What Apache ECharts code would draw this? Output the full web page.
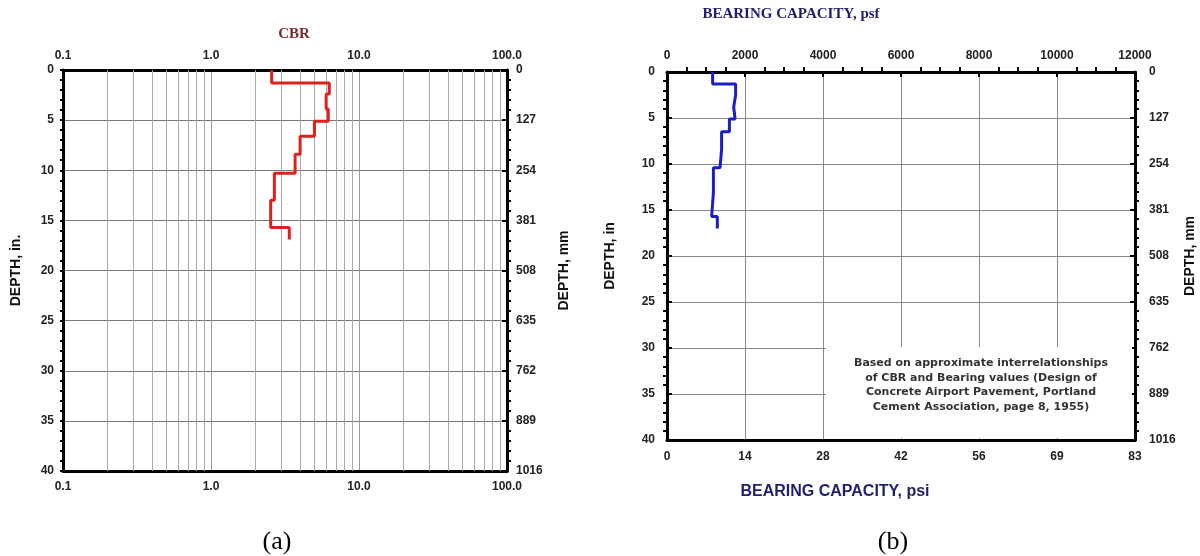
<!DOCTYPE html>
<html>
<head>
<meta charset="utf-8">
<script src="https://cdn.jsdelivr.net/npm/echarts@6/dist/echarts.min.js"></script>
<style>html,body{margin:0;padding:0;background:#fff}#c{width:1200px;height:556px}</style>
</head>
<body>
<div id="c"></div>
<script>
// ---- Data ----
// (a) CBR profile: layer boundaries (in.) and CBR value in each layer
const cbrDepthBreaks = [0, 1.3, 2.4, 3.9, 5.1, 6.6, 8.4, 10.3, 13.0, 15.7, 16.9];
const cbrValues      = [2.57, 6.3, 6.0, 6.2, 5.0, 4.0, 3.7, 2.68, 2.53, 3.38];
// (b) Bearing capacity profile: layer boundaries (in.) and psf in each layer
const bearingDepthBreaks = [0, 1.3, 2.5, 3.8, 5.1, 6.5, 8.4, 10.4, 13.1, 15.7, 17.0];
const bearingValues      = [1170, 1760, 1710, 1745, 1600, 1400, 1360, 1190, 1145, 1290];
// tick labels
const cbrTickLabels = ['0.1', '1.0', '10.0', '100.0'];
const depthInLabels = ['0', '5', '10', '15', '20', '25', '30', '35', '40'];
const depthMmLabels = ['0', '127', '254', '381', '508', '635', '762', '889', '1016'];
const psfLabels = ['0', '2000', '4000', '6000', '8000', '10000', '12000'];
const psiLabels = ['0', '14', '28', '42', '56', '69', '83'];
const noteLines = [
  'Based on approximate interrelationships',
  'of CBR and Bearing values (Design of',
  'Concrete Airport Pavement, Portland',
  'Cement Association, page 8, 1955)'
];

// ---- helpers ----
function stepProfile(breaks, values) {
  const pts = [];
  for (let i = 0; i < values.length; i++) {
    pts.push([values[i], breaks[i]]);
    pts.push([values[i], breaks[i + 1]]);
  }
  return pts;
}
// minor log gridlines 2..9 within each decade
const logMinor = [];
[0.1, 1, 10].forEach(d => { for (let k = 2; k <= 9; k++) logMinor.push({ xAxis: +(d * k).toFixed(4) }); });

const F = '"Liberation Sans", Arial, sans-serif';
const FS = '"Liberation Serif", "Times New Roman", serif';
const lbl = { fontFamily: F, fontWeight: 'bold', fontSize: 12, color: '#222' };
const axLine = { show: true, onZero: false, lineStyle: { color: '#000', width: 3 } };
const nameStyle = { fontFamily: F, fontWeight: 'bold', fontSize: 14, color: '#111' };
const tickIn = { show: true, inside: true, length: 5, lineStyle: { color: '#000', width: 2 } };
const tickOut = { show: true, inside: false, length: 3, lineStyle: { color: '#000', width: 2 } };
const noTick = { show: false };
const minor = (n, len) => ({ show: true, splitNumber: n, length: len, lineStyle: { color: '#000', width: 2 } });

const chart = echarts.init(document.getElementById('c'));
chart.setOption({
  backgroundColor: '#fff',
  animation: false,
  title: [
    { text: 'CBR', left: 289, top: 22, textAlign: 'center',
      textStyle: { fontFamily: FS, fontWeight: 'bold', fontSize: 15, color: '#7a2b2b' } },
    { text: 'BEARING CAPACITY, psf', left: 786, top: 2, textAlign: 'center',
      textStyle: { fontFamily: FS, fontWeight: 'bold', fontSize: 15, color: '#1f1f6e' } },
    { text: 'BEARING CAPACITY, psi', left: 830, top: 479, textAlign: 'center',
      textStyle: { fontFamily: F, fontWeight: 'bold', fontSize: 16, color: '#1f1f6e' } },
    { text: '(a)', left: 272, top: 524, textAlign: 'center',
      textStyle: { fontFamily: FS, fontWeight: 'normal', fontSize: 26, color: '#000' } },
    { text: '(b)', left: 888, top: 524, textAlign: 'center',
      textStyle: { fontFamily: FS, fontWeight: 'normal', fontSize: 26, color: '#000' } }
  ],
  grid: [
    { left: 63, top: 70, width: 444, height: 401, containLabel: false },
    { left: 667, top: 72, width: 468, height: 368, containLabel: false }
  ],
  xAxis: [
    { gridIndex: 0, type: 'log', logBase: 10, min: 0.1, max: 100, position: 'top',
      axisLine: axLine, axisTick: noTick,
      axisLabel: { ...lbl, margin: 8, formatter: (v, i) => cbrTickLabels[i] },
      splitLine: { show: true, lineStyle: { color: '#999', width: 1 } } },
    { gridIndex: 0, type: 'log', logBase: 10, min: 0.1, max: 100, position: 'bottom',
      axisLine: axLine, axisTick: noTick,
      axisLabel: { ...lbl, margin: 10, formatter: (v, i) => cbrTickLabels[i] },
      splitLine: { show: false } },
    { gridIndex: 1, type: 'value', min: 0, max: 12000, interval: 2000, position: 'top',
      axisLine: axLine, axisTick: tickIn, minorTick: minor(4, -5),
      axisLabel: { ...lbl, margin: 10, formatter: (v, i) => psfLabels[i] },
      splitLine: { show: true, lineStyle: { color: '#888', width: 1 } } },
    { gridIndex: 1, type: 'value', min: 0, max: 12000, interval: 2000, position: 'bottom',
      axisLine: axLine, axisTick: noTick,
      axisLabel: { ...lbl, margin: 11, formatter: (v, i) => psiLabels[i] },
      splitLine: { show: false } }
  ],
  yAxis: [
    { gridIndex: 0, type: 'value', min: 0, max: 40, interval: 5, inverse: true, position: 'left',
      name: 'DEPTH, in.', nameLocation: 'middle', nameRotate: 90, nameGap: 40, nameTextStyle: nameStyle,
      axisLine: axLine, axisTick: tickOut, minorTick: minor(5, 3),
      axisLabel: { ...lbl, margin: 9, formatter: (v, i) => depthInLabels[i] },
      splitLine: { show: true, lineStyle: { color: '#777', width: 1 } } },
    { gridIndex: 0, type: 'value', min: 0, max: 40, interval: 5, inverse: true, position: 'right',
      name: 'DEPTH, mm', nameLocation: 'middle', nameRotate: 90, nameGap: 50, nameTextStyle: nameStyle,
      axisLine: axLine, axisTick: tickIn, minorTick: minor(5, -4),
      axisLabel: { ...lbl, margin: 9, formatter: (v, i) => depthMmLabels[i] },
      splitLine: { show: false } },
    { gridIndex: 1, type: 'value', min: 0, max: 40, interval: 5, inverse: true, position: 'left',
      name: 'DEPTH, in', nameLocation: 'middle', nameRotate: 90, nameGap: 50, nameTextStyle: nameStyle,
      axisLine: axLine, axisTick: tickIn, minorTick: minor(5, -4),
      axisLabel: { ...lbl, margin: 12, formatter: (v, i) => depthInLabels[i] },
      splitLine: { show: true, lineStyle: { color: '#888', width: 1 } } },
    { gridIndex: 1, type: 'value', min: 0, max: 40, interval: 5, inverse: true, position: 'right',
      name: 'DEPTH, mm', nameLocation: 'middle', nameRotate: 90, nameGap: 48, nameTextStyle: nameStyle,
      axisLine: axLine, axisTick: tickIn, minorTick: minor(5, -4),
      axisLabel: { ...lbl, margin: 14, formatter: (v, i) => depthMmLabels[i] },
      splitLine: { show: false } }
  ],
  series: [
    { type: 'line', xAxisIndex: 0, yAxisIndex: 0, data: stepProfile(cbrDepthBreaks, cbrValues),
      showSymbol: false, lineStyle: { color: '#e0201c', width: 3 }, z: 5,
      markLine: { silent: true, symbol: ['none', 'none'], label: { show: false },
        lineStyle: { color: '#aaa', width: 1, type: 'solid' }, data: logMinor, z: 1 } },
    { type: 'line', xAxisIndex: 2, yAxisIndex: 2, data: stepProfile(bearingDepthBreaks, bearingValues),
      showSymbol: false, lineStyle: { color: '#1d1dc8', width: 3 }, z: 5 }
  ],
  graphic: [
    { type: 'rect', z: 100, shape: { x: 826, y: 347, width: 306, height: 91 },
      style: { fill: '#fff' } },
    { type: 'text', z: 101, x: 981, y: 356,
      style: { text: noteLines.join('\n'), fontFamily: '"DejaVu Sans", sans-serif', fontWeight: 'bold', fontSize: 11,
        lineHeight: 14.5, fill: '#333', align: 'center', verticalAlign: 'top' } }
  ]
});
</script>
</body>
</html>
